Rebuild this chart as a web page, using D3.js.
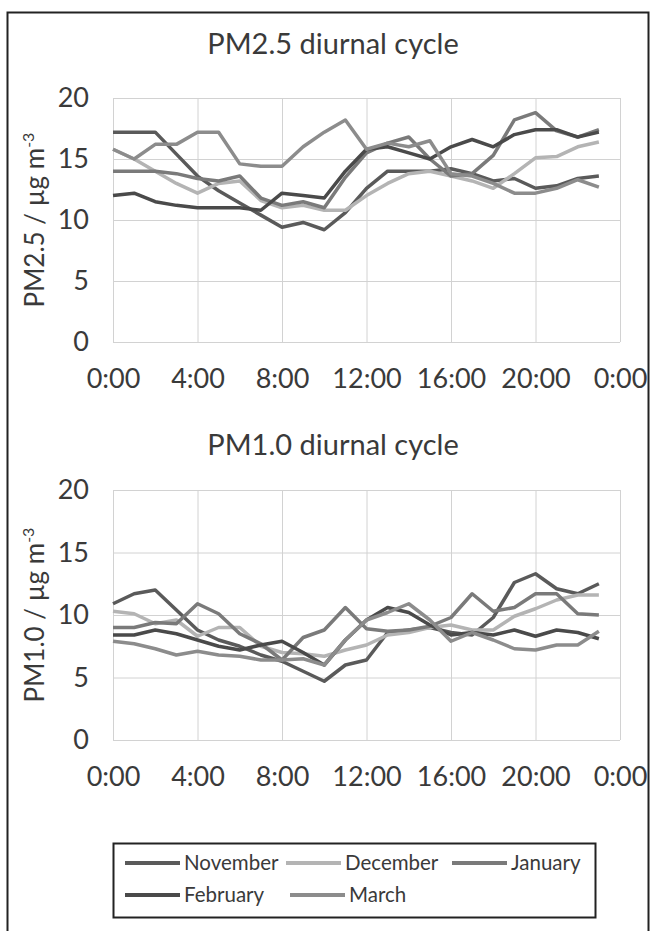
<!DOCTYPE html>
<html>
<head>
<meta charset="utf-8">
<script src="https://cdn.jsdelivr.net/npm/d3@7"></script>
<style>
  body { margin: 0; background: #fff; }
  svg text { font-family: Lato, "Open Sans", sans-serif; fill: #3a3a3a; }
</style>
</head>
<body>
<div id="d3-container"></div>
<script>
/**
 * CONSTANTS AND DATA
 * */
const width = 650,
  height = 931;

const hours = d3.range(0, 24);
const xTicks = [0, 4, 8, 12, 16, 20, 24];
const yTicks = [0, 5, 10, 15, 20];
const months = ["November", "December", "January", "February", "March"];
const monthColors = ["#5a5a5a", "#b4b4b4", "#7a7a7a", "#4a4a4a", "#8c8c8c"];

// PM2.5 hourly means, 0:00 .. 23:00
const pm25Nov = [17.2, 17.2, 17.2, 15.4, 13.6, 12.4, 11.4, 10.4, 9.4, 9.8, 9.2, 10.6, 12.6, 14.0, 14.0, 14.0, 14.2, 13.8, 13.2, 13.4, 12.6, 12.8, 13.4, 13.6];
const pm25Dec = [15.8, 15.0, 14.0, 13.0, 12.2, 13.0, 13.2, 11.6, 11.0, 11.2, 10.8, 10.8, 12.0, 13.0, 13.8, 14.0, 13.6, 13.2, 12.6, 13.8, 15.1, 15.2, 16.0, 16.4];
const pm25Jan = [14.0, 14.0, 14.0, 13.8, 13.4, 13.2, 13.6, 11.8, 11.2, 11.5, 11.0, 13.5, 15.5, 16.3, 16.8, 15.0, 13.6, 13.8, 15.3, 18.2, 18.8, 17.3, 16.8, 17.4];
const pm25Feb = [12.0, 12.2, 11.5, 11.2, 11.0, 11.0, 11.0, 10.8, 12.2, 12.0, 11.8, 14.0, 15.8, 16.0, 15.5, 15.0, 16.0, 16.6, 16.0, 17.0, 17.4, 17.4, 16.8, 17.2];
const pm25Mar = [15.8, 15.0, 16.2, 16.2, 17.2, 17.2, 14.6, 14.4, 14.4, 16.0, 17.2, 18.2, 15.8, 16.3, 16.0, 16.5, 13.8, 13.6, 13.0, 12.2, 12.2, 12.6, 13.3, 12.7];

// PM1.0 hourly means, 0:00 .. 23:00
const pm10Nov = [10.9, 11.7, 12.0, 10.4, 8.8, 8.0, 7.5, 6.8, 6.3, 5.5, 4.7, 6.0, 6.4, 8.6, 8.8, 9.0, 8.6, 8.4, 9.8, 12.6, 13.3, 12.1, 11.7, 12.5];
const pm10Dec = [10.3, 10.1, 9.3, 9.6, 8.3, 9.0, 9.0, 7.5, 7.0, 6.9, 6.7, 7.2, 7.6, 8.4, 8.6, 9.0, 9.2, 8.8, 8.8, 9.9, 10.5, 11.2, 11.6, 11.6];
const pm10Jan = [9.0, 9.0, 9.4, 9.3, 10.9, 10.1, 8.5, 7.7, 6.4, 8.2, 8.8, 10.6, 8.9, 8.7, 8.8, 9.1, 9.8, 11.7, 10.3, 10.6, 11.7, 11.7, 10.1, 10.0];
const pm10Feb = [8.4, 8.4, 8.8, 8.5, 8.0, 7.5, 7.2, 7.6, 7.9, 7.0, 6.0, 8.0, 9.6, 10.6, 10.2, 9.2, 8.4, 8.6, 8.4, 8.8, 8.3, 8.8, 8.6, 8.1];
const pm10Mar = [7.9, 7.7, 7.3, 6.8, 7.1, 6.8, 6.7, 6.4, 6.4, 6.5, 6.0, 8.0, 9.6, 10.2, 10.9, 9.6, 7.9, 8.6, 8.0, 7.3, 7.2, 7.6, 7.6, 8.7];

const panels = [
  { title: "PM2.5 diurnal cycle", label: "PM2.5", series: [pm25Nov, pm25Dec, pm25Jan, pm25Feb, pm25Mar],
    top: 98, bottom: 342, titleY: 54 },
  { title: "PM1.0 diurnal cycle", label: "PM1.0", series: [pm10Nov, pm10Dec, pm10Jan, pm10Feb, pm10Mar],
    top: 490, bottom: 740, titleY: 455 }
];

const plotLeft = 113, plotRight = 620;

const svg = d3.select("#d3-container")
  .append("svg")
  .attr("width", width)
  .attr("height", height);

// outer frame
svg.append("rect")
  .attr("x", 7.5).attr("y", 12.5)
  .attr("width", 641).attr("height", 930)
  .attr("fill", "none")
  .attr("stroke", "#222")
  .attr("stroke-width", 2);

const x = d3.scaleLinear().domain([0, 24]).range([plotLeft, plotRight]);
const fmtHour = h => `${h % 24}:00`;

panels.forEach(p => {
  const y = d3.scaleLinear().domain([0, 20]).range([p.bottom, p.top]);
  const g = svg.append("g");

  // gridlines
  g.append("g")
    .attr("transform", `translate(0,${p.bottom})`)
    .call(d3.axisBottom(x).tickValues(xTicks).tickSize(-(p.bottom - p.top)).tickFormat(""))
    .call(a => a.select(".domain").remove())
    .call(a => a.selectAll("line").attr("stroke", "#d2d2d2"));
  g.append("g")
    .attr("transform", `translate(${plotLeft},0)`)
    .call(d3.axisLeft(y).tickValues(yTicks).tickSize(-(plotRight - plotLeft)).tickFormat(""))
    .call(a => a.select(".domain").remove())
    .call(a => a.selectAll("line").attr("stroke", "#d2d2d2"));

  // tick labels
  g.append("g")
    .attr("transform", `translate(${plotLeft - 24},0)`)
    .call(d3.axisLeft(y).tickValues(yTicks).tickSize(0).tickPadding(0))
    .call(a => a.select(".domain").remove())
    .call(a => a.selectAll("text")
      .attr("font-size", 27).attr("font-family", "Lato").attr("fill", "#444"));
  g.append("g")
    .attr("transform", `translate(0,${p.bottom + 27})`)
    .call(d3.axisBottom(x).tickValues(xTicks).tickSize(0).tickPadding(0).tickFormat(fmtHour))
    .call(a => a.select(".domain").remove())
    .call(a => a.selectAll("text")
      .attr("font-size", 27).attr("font-family", "Lato").attr("fill", "#444"));

  // title
  svg.append("text")
    .attr("x", 333).attr("y", p.titleY)
    .attr("text-anchor", "middle")
    .attr("font-size", 29)
    .attr("fill", "#444")
    .text(p.title);

  // y-axis title
  const yt = svg.append("text")
    .attr("transform", `translate(44,${(p.top + p.bottom) / 2}) rotate(-90)`)
    .attr("text-anchor", "middle")
    .attr("font-size", 26)
    .attr("fill", "#444");
  yt.append("tspan").text(`${p.label} / \u00b5g m`);
  yt.append("tspan").attr("font-size", 16).attr("dy", -10).text("-3");

  // series lines
  const line = d3.line().x((d, i) => x(hours[i])).y(d => y(d));
  g.selectAll("path.series")
    .data(p.series)
    .join("path")
    .attr("class", "series")
    .attr("fill", "none")
    .attr("stroke", (d, i) => monthColors[i])
    .attr("stroke-width", 3.5)
    .attr("stroke-linejoin", "round")
    .attr("d", line);
});

// legend
const legend = svg.append("g");
legend.append("rect")
  .attr("x", 113.5).attr("y", 843.5)
  .attr("width", 482).attr("height", 74)
  .attr("fill", "none").attr("stroke", "#222").attr("stroke-width", 2);

const legendPos = [[125, 863], [286, 863], [452, 863], [125, 895], [290, 895]];
legend.selectAll("g.item")
  .data(months)
  .join("g")
  .attr("class", "item")
  .attr("transform", (d, i) => `translate(${legendPos[i][0]},${legendPos[i][1]})`)
  .each(function (d, i) {
    const it = d3.select(this);
    it.append("line")
      .attr("x1", 0).attr("x2", 55).attr("y1", 0).attr("y2", 0)
      .attr("stroke", monthColors[i]).attr("stroke-width", 4);
    it.append("text")
      .attr("x", 59).attr("y", 7)
      .attr("font-size", 20.5).attr("fill", "#222")
      .text(d);
  });
</script>
</body>
</html>
